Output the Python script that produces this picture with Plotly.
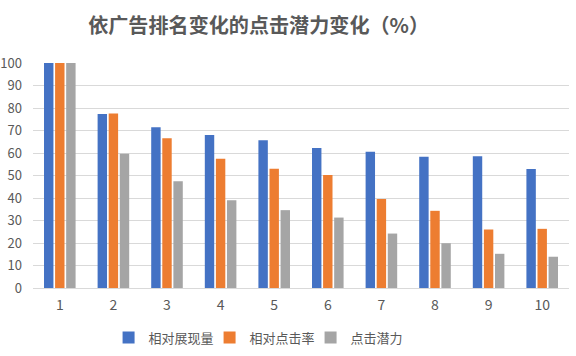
import plotly.graph_objects as go

categories = ["1", "2", "3", "4", "5", "6", "7", "8", "9", "10"]
impressions = [100, 77.3, 71.4, 68.0, 65.7, 62.2, 60.6, 58.3, 58.6, 52.9]
ctr = [100, 77.6, 66.6, 57.5, 53.0, 50.2, 39.6, 34.3, 26.0, 26.3]
potential = [100, 59.7, 47.4, 39.0, 34.6, 31.3, 24.2, 19.9, 15.2, 13.9]
series_names = ["相对展现量", "相对点击率", "点击潜力"]
colors = ["#4472C4", "#ED7D31", "#A5A5A5"]

font_family = "Noto Sans CJK SC"

fig = go.Figure()
for name, vals, col in zip(series_names, [impressions, ctr, potential], colors):
    fig.add_trace(go.Bar(x=categories, y=vals, name=name, marker=dict(color=col, line=dict(width=0))))

fig.update_layout(
    width=576, height=356,
    margin=dict(l=33, r=7, t=63, b=68, autoexpand=False),
    paper_bgcolor="white", plot_bgcolor="white",
    barmode="group", bargap=0.38, bargroupgap=0.15,
    font=dict(family=font_family, color="#595959", size=12),
    title=dict(text="<b>依广告排名变化的点击潜力变化（%）</b>", x=0.449, xanchor="center",
               y=0.928, yanchor="middle", font=dict(size=20.1, color="#595959", family=font_family)),
    legend=dict(orientation="h", x=0.141, xanchor="left", y=-0.22, yanchor="middle",
                font=dict(size=13, color="#595959"), entrywidth=56, entrywidthmode="pixels",
                itemwidth=30, tracegroupgap=0),
    showlegend=True,
)
fig.update_yaxes(range=[0, 100], dtick=10, showgrid=True, gridcolor="#D9D9D9", gridwidth=1,
                 zeroline=False, showline=False, ticklabelstandoff=10, automargin=False,
                 tickfont=dict(size=13, color="#595959"))
fig.update_xaxes(showline=True, linecolor="#D9D9D9", linewidth=1, ticks="", automargin=False,
                 tickfont=dict(size=14, color="#595959"), ticklabelstandoff=4)

fig.write_html("out.html", post_script="document.body.style.margin='0';",
               config={"displayModeBar": False})
